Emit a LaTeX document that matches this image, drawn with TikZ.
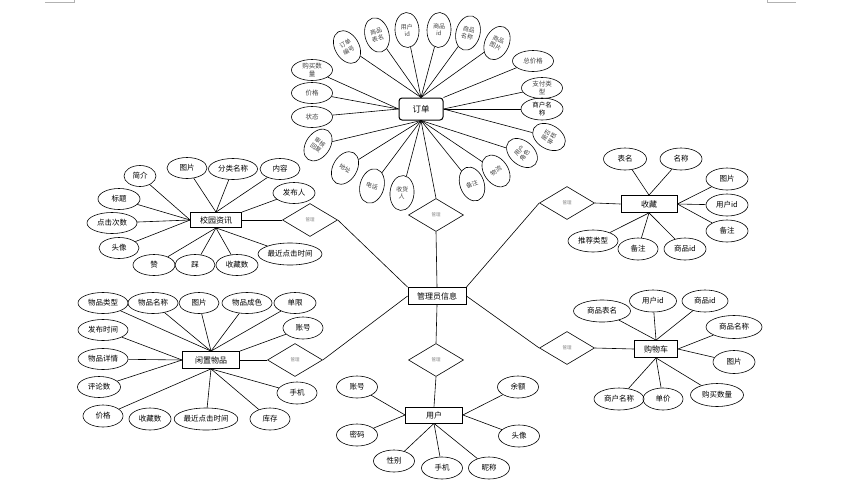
\documentclass[tikz,border=0pt]{standalone}
\usepackage{fontspec}
\setmainfont{Noto Sans CJK SC}
\usetikzlibrary{shapes.geometric}

\begin{document}
\begin{tikzpicture}[x=1pt, y=-1pt, line width=.6pt,
    ent/.style={draw, line width=.8pt, inner sep=0pt, minimum width=#1, minimum height=17pt, font=\fontsize{8}{9}\selectfont},
    ent/.default=57pt,
    attr/.style={draw, ellipse, inner sep=0pt, minimum width=#1, minimum height=21pt, font=\fontsize{7.5}{9}\selectfont},
    attr/.default=41pt,
    vattr/.style={draw, ellipse, inner sep=0pt, minimum width=24pt, minimum height=35pt, align=center, font=\fontsize{6}{7}\selectfont, text=black!75},
    hattr/.style={draw, ellipse, inner sep=0pt, minimum width=41pt, minimum height=21pt, align=center, font=\fontsize{6.5}{7.5}\selectfont, text=black!75},
    rel/.style={draw, diamond, inner sep=0pt, minimum width=55pt, minimum height=33pt, font=\fontsize{4.5}{5}\selectfont, text=black!50}]
    \useasboundingbox (0, 0) rectangle (864, 485);
        \draw[black!30, line width=.5pt](45, 2) -- (74, 2) -- (74, 0);
        \draw[black!30, line width=.5pt](767, 0) -- (767, 2) -- (796, 2);

        %%订单
        \node[draw, rounded corners=3pt, line width=1pt, minimum width=44pt, minimum height=22pt, font=\fontsize{8.5}{9}\selectfont] (dd) at(421, 109){订单};
        \node[vattr, rotate=30] (dd1) at(347, 47){订单\\编号};
        \node[vattr, rotate=15] (dd2) at(377, 35){商品\\表名};
        \node[vattr, rotate=3] (dd3) at(407, 30){用户\\id};
        \node[vattr, rotate=-3] (dd4) at(439, 30){商品\\id};
        \node[vattr, rotate=-15] (dd5) at(468, 33){商品\\名称};
        \node[vattr, rotate=-25] (dd6) at(497, 43){商品\\图片};
        \node[hattr] (dd7) at(533, 61){总价格};
        \node[hattr] (dd8) at(542, 88){支付类\\型};
        \node[hattr, text=black, minimum width=42pt, minimum height=22pt] (dd9) at(542, 109){商户名\\称};
        \node[vattr, rotate=60] (dd10) at(549, 137){是否\\审核};
        \node[vattr, rotate=50] (dd11) at(522, 153){用户\\角色};
        \node[vattr, rotate=35] (dd12) at(496, 171){物流};
        \node[vattr, rotate=20] (dd13) at(472, 184){备注};
        \node[vattr, rotate=-5] (dd14) at(402, 193){收货\\人};
        \node[vattr, rotate=-15] (dd15) at(372, 186){电话};
        \node[vattr, rotate=-30] (dd16) at(345, 168){地址};
        \node[vattr, rotate=-35] (dd17) at(318, 145){审核\\回复};
        \node[hattr] (dd18) at(312, 117){状态};
        \node[hattr] (dd19) at(312, 93){价格};
        \node[hattr] (dd20) at(312, 70){购买数\\量};
            \draw(dd1) to (dd.north);
            \draw(dd2) to (dd.north);
            \draw(dd3) to (dd.north);
            \draw(dd4) to (dd.north);
            \draw(dd5) to (dd.north);
            \draw(dd6) to (dd.north);
            \draw(dd7) to (dd.north east);
            \draw(dd8) to (dd.east);
            \draw(dd9) to (dd.east);
            \draw(dd10) to (dd.east);
            \draw(dd11) to (dd.south);
            \draw(dd12) to (dd.south);
            \draw(dd13) to (dd.south);
            \draw(dd14) to (dd.south);
            \draw(dd15) to (dd.south);
            \draw(dd16) to (dd.south);
            \draw(dd17) to (dd.south);
            \draw(dd18) to (dd.west);
            \draw(dd19) to (dd.west);
            \draw(dd20) to (dd.west);

        %%管理员信息
        \node[ent=58pt] (gly) at(437, 296){管理员信息};
        \node[rel] (gl0) at(436, 215){管理};
        \node[rel] (gl1) at(310, 220){管理};
        \node[rel] (gl2) at(567, 203){管理};
        \node[rel] (gl3) at(567, 348){管理};
        \node[rel] (gl4) at(295, 360){管理};
        \node[rel] (gl5) at(436, 360){管理};
            \draw(dd.south) to (gl0.north);
            \draw(gl0.south) to (gly.north);
            \draw(gl1.east) to (gly.north west);
            \draw(gl2.west) to (gly.north east);
            \draw(gl3.west) to (gly.east);
            \draw(gl4.east) to (gly.west);
            \draw(gl5.north) to (gly.south);

        %%校园资讯
        \node[ent=51pt, minimum height=15pt] (xw) at(216, 220){校园资讯};
        \node[attr=32pt] (xw1) at(140, 176){简介};
        \node[attr=40pt] (xw2) at(187, 168){图片};
        \node[attr=49pt] (xw3) at(233, 169){分类名称};
        \node[attr=40pt] (xw4) at(280, 169){内容};
        \node[attr=42pt] (xw5) at(294, 193){发布人};
        \node[attr=42pt] (xw6) at(119, 199){标题};
        \node[attr=50pt] (xw7) at(112, 223){点击次数};
        \node[attr=40pt] (xw8) at(119, 248){头像};
        \node[attr=42pt] (xw9) at(154, 265){赞};
        \node[attr=40pt] (xw10) at(195, 265){踩};
        \node[attr=42pt] (xw11) at(237, 265){收藏数};
        \node[attr=64pt, minimum height=22pt] (xw12) at(290, 254){最近点击时间};
            \draw(xw1) to (xw.west);
            \draw(xw2) to (xw.north);
            \draw(xw3) to (xw.north);
            \draw(xw4) to (xw.north);
            \draw(xw5) to (xw.north east);
            \draw(xw6) to (xw.west);
            \draw(xw7) to (xw.west);
            \draw(xw8) to (xw.west);
            \draw(xw9) to (xw.south);
            \draw(xw10) to (xw.south);
            \draw(xw11) to (xw.south);
            \draw(xw12) to (xw.south);
            \draw(xw.east) to (gl1.west);

        %%闲置物品
        \node[ent=57pt] (xz) at(211, 360){闲置物品};
        \node[attr=50pt] (xz1) at(103, 303){物品类型};
        \node[attr=50pt] (xz2) at(153, 303){物品名称};
        \node[attr=40pt] (xz3) at(199, 303){图片};
        \node[attr=50pt] (xz4) at(247, 303){物品成色};
        \node[attr=42pt] (xz5) at(295, 303){单限};
        \node[attr=40pt, minimum height=22pt] (xz6) at(303, 328){账号};
        \node[attr=50pt] (xz7) at(103, 330){发布时间};
        \node[attr=50pt] (xz8) at(103, 359){物品详情};
        \node[attr=43pt] (xz9) at(99, 387){评论数};
        \node[attr=40pt, minimum height=22pt] (xz10) at(103, 416){价格};
        \node[attr=42pt, minimum height=22pt] (xz11) at(150, 419){收藏数};
        \node[attr=58pt, minimum height=22pt] (xz12) at(206, 419){最近点击时间};
        \node[attr=40pt, minimum height=22pt] (xz13) at(270, 419){库存};
        \node[attr=40pt, minimum height=22pt] (xz14) at(297, 393){手机};
            \draw(xz1) to (xz.north);
            \draw(xz2) to (xz.north);
            \draw(xz3) to (xz.north);
            \draw(xz4) to (xz.north);
            \draw(xz5) to (xz.north);
            \draw(xz6) to (xz.north east);
            \draw(xz7) to (xz.west);
            \draw(xz8) to (xz.west);
            \draw(xz9) to (xz.west);
            \draw(xz10) to (xz.south);
            \draw(xz12) to (xz.south);
            \draw(xz13) to (xz.south);
            \draw(xz14) to (xz.south);
            \draw(xz.east) to (gl4.west);

        %%收藏
        \node[ent=56pt] (sc) at(649, 204){收藏};
        \node[attr=43pt, minimum height=22pt] (sc1) at(625, 159){表名};
        \node[attr=42pt, minimum height=22pt] (sc2) at(681, 159){名称};
        \node[attr=42pt, minimum height=22pt] (sc3) at(727, 179){图片};
        \node[attr=42pt, minimum height=22pt] (sc4) at(727, 205){用户id};
        \node[attr=42pt, minimum height=22pt] (sc5) at(727, 231){备注};
        \node[attr=50pt, minimum height=22pt] (sc6) at(593, 241){推荐类型};
        \node[attr=40pt, minimum height=22pt] (sc7) at(638, 249){备注};
        \node[attr=42pt, minimum height=22pt] (sc8) at(685, 249){商品id};
            \draw(sc1) to (sc.north);
            \draw(sc2) to (sc.north);
            \draw(sc3) to (sc.east);
            \draw(sc4) to (sc.east);
            \draw(sc5) to (sc.east);
            \draw(sc6) to (sc.south);
            \draw(sc7) to (sc.south);
            \draw(sc8) to (sc.south);
            \draw(gl2.east) to (sc.west);

        %%购物车
        \node[ent=43pt] (gwc) at(656, 349){购物车};
        \node[attr=57pt, minimum height=22pt] (gwc1) at(602, 311){商品表名};
        \node[attr=47pt, minimum height=22pt] (gwc2) at(653, 301){用户id};
        \node[attr=46pt, minimum height=22pt] (gwc3) at(705, 301){商品id};
        \node[attr=56pt, minimum height=23pt] (gwc4) at(734, 327){商品名称};
        \node[attr=42pt, minimum height=23pt] (gwc5) at(734, 362){图片};
        \node[attr=50pt, minimum height=22pt] (gwc6) at(619, 399){商户名称};
        \node[attr=40pt, minimum height=22pt] (gwc7) at(663, 399){单价};
        \node[attr=53pt, minimum height=23pt] (gwc8) at(717, 395){购买数量};
            \draw(gwc1) to (gwc.north);
            \draw(gwc2) to (gwc.north);
            \draw(gwc3) to (gwc.north);
            \draw(gwc4) to (gwc.east);
            \draw(gwc5) to (gwc.east);
            \draw(gwc6) to (gwc.south);
            \draw(gwc7) to (gwc.south);
            \draw(gwc8) to (gwc.south);
            \draw(gl3.east) to (gwc.west);

        %%用户
        \node[ent=57pt, minimum height=16pt] (yh) at(434, 415){用户};
        \node[attr, minimum height=22pt] (yh1) at(357, 387){账号};
        \node[attr, minimum height=22pt] (yh2) at(357, 435){密码};
        \node[attr, minimum height=22pt] (yh3) at(394, 461){性别};
        \node[attr, minimum height=22pt] (yh4) at(442, 468){手机};
        \node[attr, minimum height=22pt] (yh5) at(489, 468){昵称};
        \node[attr, minimum height=22pt] (yh6) at(518, 387){余额};
        \node[attr, minimum height=22pt] (yh7) at(519, 436){头像};
            \draw(yh1) to (yh.west);
            \draw(yh2) to (yh.west);
            \draw(yh3) to (yh.south);
            \draw(yh4) to (yh.south);
            \draw(yh5) to (yh.south);
            \draw(yh6) to (yh.east);
            \draw(yh7) to (yh.east);
            \draw(gl5.south) to (yh.north);
\end{tikzpicture}
\end{document}
